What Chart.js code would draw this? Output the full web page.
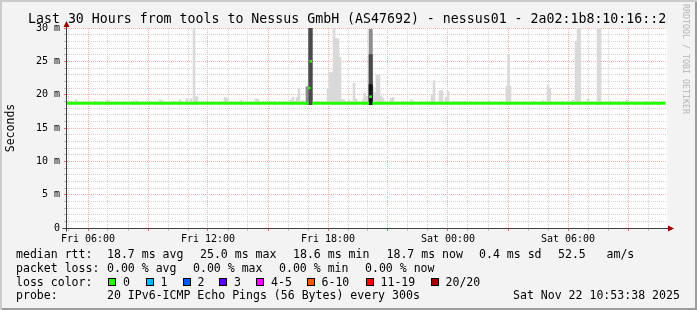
<!DOCTYPE html>
<html lang="en">
<head>
<meta charset="UTF-8">
<title>Last 30 Hours - nessus01</title>
<script src="https://cdn.jsdelivr.net/npm/chart.js"></script>
<style>
  body { margin: 0; background: #fff; }
  #frame {
    position: relative; width: 697px; height: 310px; overflow: hidden;
    background: #f3f3f3;
    box-shadow: inset 2px 2px 0 #cbcbcb, inset -2px -2px 0 #9c9c9c;
    font-family: "DejaVu Sans Mono", monospace; color: #000;
  }
  #chart { position: absolute; left: 0; top: 0; }
  .t { position: absolute; white-space: pre; font-size: 11.55px; line-height: 14px; }
  .title { position: absolute; left: 28px; top: 11px; white-space: pre; font-size: 13.25px; line-height: 16px; }
  .sw { position: absolute; width: 8px; height: 8px; box-sizing: border-box; border: 1px solid #000; top: 278px; }
  .side { position: absolute; left: 691px; top: 4px; transform: rotate(90deg); transform-origin: 0 0;
          font-size: 8.3px; line-height: 10px; color: #b4b4b4; white-space: pre; }
</style>
</head>
<body>
<div id="frame">
  <canvas id="chart" width="697" height="310"></canvas>
  <div class="title">Last 30 Hours from tools to Nessus GmbH (AS47692) - nessus01 - 2a02:1b8:10:16::2</div>
  <div class="side">RRDTOOL / TOBI OETIKER</div>

  <div class="t" style="left:16px;top:247px">median rtt:</div>
  <div class="t" style="left:107px;top:247px">18.7 ms avg</div>
  <div class="t" style="left:200px;top:247px">25.0 ms max</div>
  <div class="t" style="left:293px;top:247px">18.6 ms min</div>
  <div class="t" style="left:386.5px;top:247px">18.7 ms now</div>
  <div class="t" style="left:479px;top:247px">0.4 ms sd</div>
  <div class="t" style="left:558px;top:247px">52.5</div>
  <div class="t" style="left:606.5px;top:247px">am/s</div>

  <div class="t" style="left:16px;top:260.8px">packet loss:</div>
  <div class="t" style="left:107px;top:260.8px">0.00 % avg</div>
  <div class="t" style="left:193px;top:260.8px">0.00 % max</div>
  <div class="t" style="left:279px;top:260.8px">0.00 % min</div>
  <div class="t" style="left:365px;top:260.8px">0.00 % now</div>

  <div class="t" style="left:16px;top:274.5px">loss color:</div>
  <div id="lossLegend"></div>

  <div class="t" style="left:16px;top:288.2px">probe:</div>
  <div class="t" style="left:107px;top:288.2px">20 IPv6-ICMP Echo Pings (56 Bytes) every 300s</div>
  <div class="t" style="left:513px;top:288.2px">Sat Nov 22 10:53:38 2025</div>
</div>

<script>
// time is in hours since Fri 00:00, values in ms
const labelHours = [6, 12, 18, 24, 30];
const labelTexts = ["Fri 06:00", "Fri 12:00", "Fri 18:00", "Sat 00:00", "Sat 06:00"];

const minRtt = 18.5;

// light smoke: top of the ping spread
const smokeHours = [5.40, 6.35, 6.50, 6.95, 7.05, 8.40, 8.50, 9.60, 9.70, 10.60,
                    10.95, 11.15, 11.30, 11.38, 11.45, 12.85, 12.95, 13.65, 14.40, 14.50,
                    15.35, 16.15, 16.25, 16.45, 16.55, 16.75, 17.45, 18.00, 18.10, 18.20,
                    18.30, 18.40, 18.50, 18.60, 18.70, 18.80, 19.05, 19.30, 19.40, 19.75,
                    19.83, 19.95, 20.25, 20.35, 20.45, 20.55, 20.65, 20.75, 21.15, 21.25,
                    22.15, 22.25, 23.20, 23.30, 23.60, 23.70, 23.90, 24.00, 24.20, 24.40,
                    24.60, 24.80, 26.05, 26.95, 27.03, 27.10, 28.75, 29.00, 29.08, 29.75,
                    30.25, 30.40, 30.50, 30.58, 31.00, 31.50, 31.60, 32.10, 32.50, 32.95,
                    33.40, 33.90];
const smokeMax   = [19.2, 19.0, 19.0, 19.1, 19.1, 19.1, 19.0, 19.2, 19.1, 19.2,
                    19.4, 19.4, 30.0, 19.7, 19.7, 19.6, 19.5, 19.1, 19.4, 19.3,
                    19.0, 19.2, 19.6, 19.6, 20.9, 19.1, 19.0, 20.9, 23.3, 23.3,
                    30.0, 28.4, 28.4, 25.6, 19.3, 19.2, 19.2, 21.7, 19.4, 19.2,
                    20.2, 19.8, 21.2, 20.3, 22.9, 22.9, 19.8, 19.5, 19.5, 19.6,
                    19.2, 19.1, 20.0, 22.1, 20.6, 20.6, 19.6, 20.5, 19.0, 19.0,
                    19.0, 19.0, 19.1, 21.3, 26.0, 21.3, 19.1, 21.5, 21.0, 19.0,
                    19.2, 28.0, 30.0, 30.0, 19.3, 30.0, 30.0, 19.0, 19.0, 19.2,
                    19.0, 19.0];

// denser smoke where most pings were slow
const midHours   = [16.95, 20.10, 20.17];
const midMax     = [21.2, 29.8, 29.8];
const darkHours  = [17.08, 17.17, 20.10, 20.17];
const darkMax    = [30.0, 30.0, 26.0, 26.0];
const blackHours = [20.10, 20.17];
const blackMax   = [21.5, 21.5];

// median rtt (0 % loss)
const medHours  = [4.95, 11.0, 17.02, 17.03, 17.22, 20.05, 20.06, 20.22, 27.0, 34.88];
const medValues = [18.7, 18.7, 18.7, null, 18.7, 18.7, null, 18.7, 18.7, 18.7];
const dotHours  = [17.06, 17.14, 20.13];
const dotValues = [21.0, 25.0, 19.7];

const lossLabels = ["0", "1", "2", "3", "4-5", "6-10", "11-19", "20/20"];
const lossColors = ["#26ff00", "#00b8ff", "#0059ff", "#5e00ff", "#ff00ff", "#ff5500", "#ff0000", "#a10000"];
const lossSwatchX = [108, 145.5, 182.5, 219, 256, 306.5, 365.5, 430.5];

const legendBox = document.getElementById("lossLegend");
lossLabels.forEach((lab, i) => {
    legendBox.insertAdjacentHTML("beforeend",
        `<div class="sw" style="left:${lossSwatchX[i]}px;background:${lossColors[i]}"></div>` +
        `<div class="t" style="left:${lossSwatchX[i] + 15}px;top:274.5px">${lab}</div>`);
});

const mono = "'DejaVu Sans Mono', monospace";
const majorGrid = "#f5b0b0";
const minorGrid = "#d2d2d2";

function floating(hours, tops) {
    return hours.map((h, i) => ({ x: h, y: [minRtt, tops[i]] }));
}
function points(hours, vals) {
    return hours.map((h, i) => ({ x: h, y: vals[i] }));
}

const plotBg = {
    id: "plotBg",
    beforeDraw(chart) {
        const { ctx, chartArea: a } = chart;
        ctx.save();
        ctx.fillStyle = "#ffffff";
        ctx.fillRect(a.left, a.top, a.right - a.left, a.bottom - a.top);
        ctx.restore();
    }
};

// rrdtool style axes with arrow heads
const axes = {
    id: "axes",
    afterDatasetsDraw(chart) {
        const { ctx, chartArea: a } = chart;
        const x0 = a.left - 0.5, y0 = a.bottom + 0.5;
        ctx.save();
        ctx.strokeStyle = "#404040";
        ctx.lineWidth = 1;
        ctx.beginPath();
        ctx.moveTo(x0, y0 + 3); ctx.lineTo(x0, a.top - 1);
        ctx.moveTo(x0 - 4, y0); ctx.lineTo(a.right + 2, y0);
        ctx.stroke();
        ctx.fillStyle = "#990000";
        ctx.beginPath();
        ctx.moveTo(x0 - 3, a.top - 1); ctx.lineTo(x0, a.top - 7); ctx.lineTo(x0 + 3, a.top - 1);
        ctx.closePath(); ctx.fill();
        ctx.beginPath();
        ctx.moveTo(a.right + 1, y0 - 3); ctx.lineTo(a.right + 7, y0); ctx.lineTo(a.right + 1, y0 + 3);
        ctx.closePath(); ctx.fill();
        ctx.restore();
    }
};

const hourTicks = [];
for (let h = 5; h <= 34; h++) hourTicks.push(h);
const msTicks = [];
for (let v = 0; v <= 30; v++) msTicks.push(v);

new Chart(document.getElementById("chart"), {
    type: "bar",
    data: {
        datasets: [
            { type: "line", data: points(dotHours, dotValues), showLine: false, pointStyle: "rect",
              pointRadius: 1.8, pointBackgroundColor: "#26ff00", pointBorderWidth: 0, order: 0 },
            { type: "line", data: points(medHours, medValues), borderColor: "#26ff00", borderWidth: 3,
              pointRadius: 0, spanGaps: false, order: 1 },
            { data: floating(blackHours, blackMax), backgroundColor: "#151515", order: 2 },
            { data: floating(darkHours, darkMax), backgroundColor: "#4a4a4a", order: 3 },
            { data: floating(midHours, midMax), backgroundColor: "#8e8e8e", order: 4 },
            { data: floating(smokeHours, smokeMax), backgroundColor: "#d9d9d9", order: 5 }
        ]
    },
    options: {
        responsive: false,
        animation: false,
        events: [],
        layout: { padding: { top: 28, right: 30, left: 0, bottom: 0 } },
        datasets: { bar: { grouped: false, barThickness: 2, borderWidth: 0, borderSkipped: false } },
        plugins: { legend: { display: false }, tooltip: { enabled: false } },
        scales: {
            x: {
                type: "linear", min: 4.95, max: 34.95, offset: false,
                afterBuildTicks: s => { s.ticks = hourTicks.map(v => ({ value: v })); },
                afterFit: s => { s.height = 82; },
                grid: {
                    offset: false, lineWidth: 1, tickLength: 3,
                    color: c => c.tick.value % 3 === 0 ? majorGrid : minorGrid,
                    tickColor: c => c.tick.value % 3 === 0 ? "#e07070" : "#bbbbbb"
                },
                border: { display: false, dash: [1, 1] },
                ticks: {
                    autoSkip: false, maxRotation: 0, padding: 2, color: "#000",
                    font: { family: mono, size: 10 },
                    callback: v => {
                        const i = labelHours.indexOf(v);
                        return i >= 0 ? labelTexts[i] : "";
                    }
                }
            },
            y: {
                min: 0, max: 30,
                afterBuildTicks: s => { s.ticks = msTicks.map(v => ({ value: v })); },
                afterFit: s => { s.width = 67; },
                grid: {
                    lineWidth: 1, tickLength: 3,
                    color: c => c.tick.value % 5 === 0 ? majorGrid : minorGrid,
                    tickColor: c => c.tick.value % 5 === 0 ? "#e07070" : "#bbbbbb"
                },
                border: { display: false, dash: [1, 1] },
                ticks: {
                    autoSkip: false, padding: 4, color: "#000",
                    font: { family: mono, size: 10 },
                    callback: v => v % 5 !== 0 ? "" : (v === 0 ? "0" : v + " m")
                },
                title: {
                    display: true, text: "Seconds", color: "#000",
                    font: { family: mono, size: 11.5 }, padding: { top: 4, bottom: 0 }
                }
            }
        }
    },
    plugins: [plotBg, axes]
});
</script>
</body>
</html>
